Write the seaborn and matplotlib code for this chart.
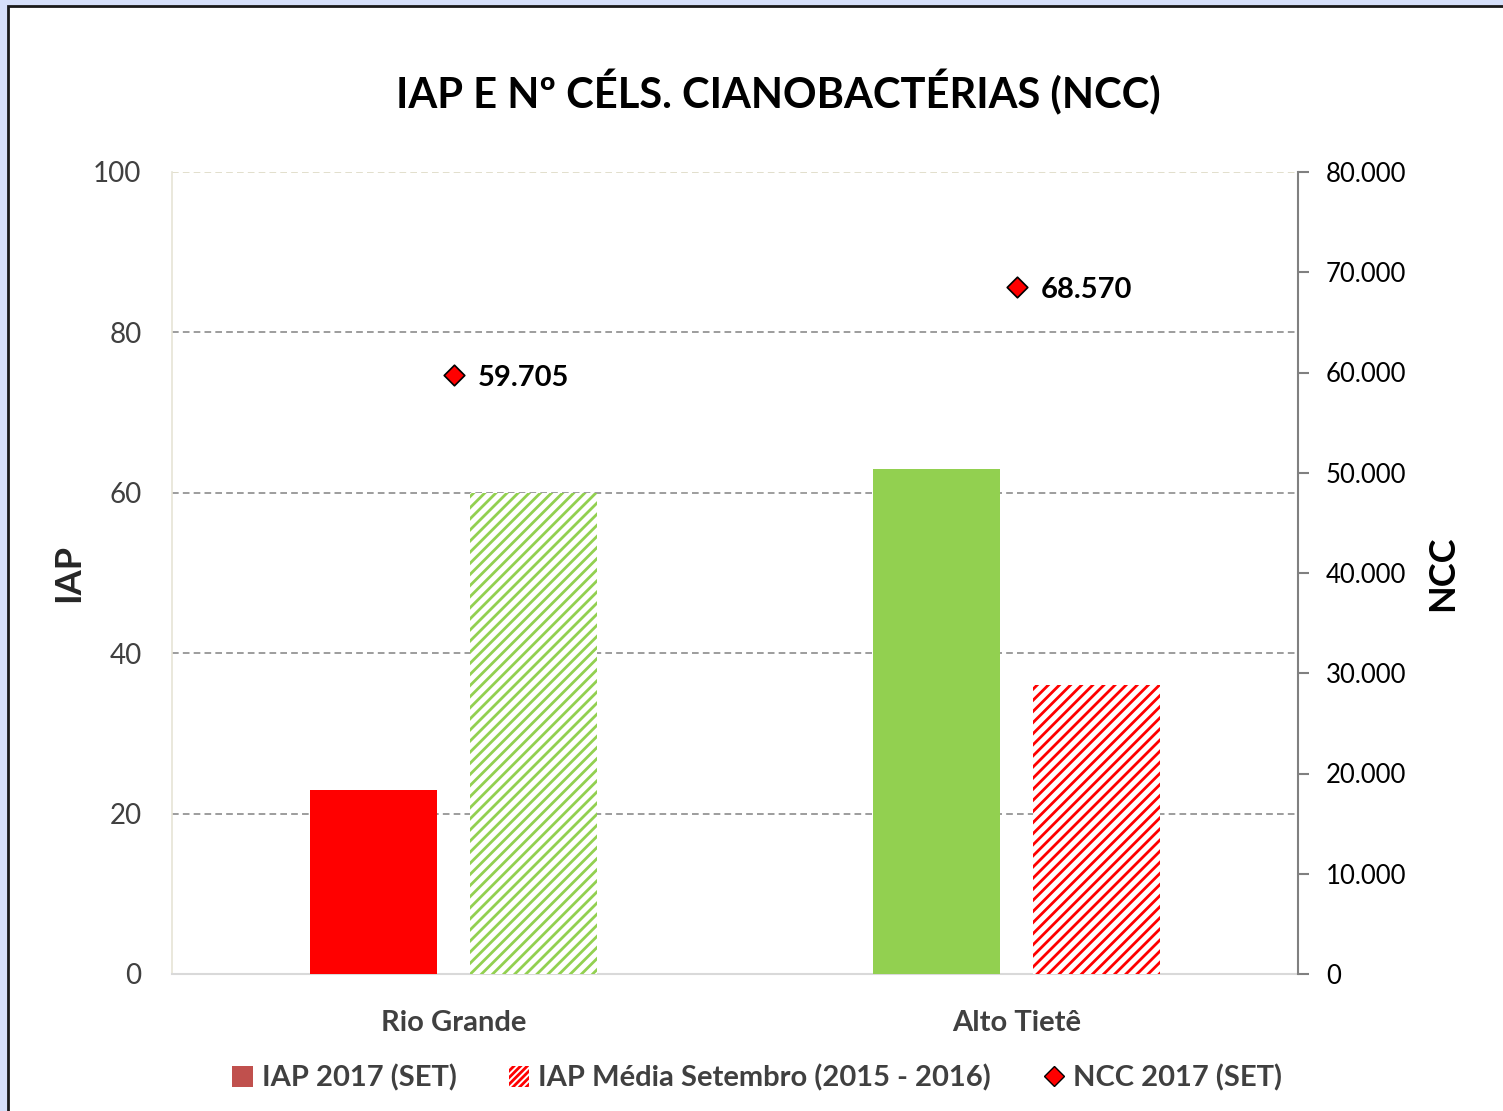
import matplotlib
matplotlib.use("Agg")
import matplotlib.pyplot as plt
from matplotlib.patches import Patch, Rectangle
from matplotlib.lines import Line2D
from matplotlib.ticker import FuncFormatter
import pandas as pd
import seaborn as sns

# data
regions = ["Rio Grande", "Alto Tietê"]
series = ["IAP 2017 (SET)", "IAP Média Setembro (2015 - 2016)"]
iap_2017 = [23, 63]
iap_media = [60, 36]
ncc_2017 = [59705, 68570]
ncc_label = "NCC 2017 (SET)"

RED = "#FF0000"
GREEN = "#92D050"
solid_colors = [RED, GREEN]
hatch_colors = [GREEN, RED]

df = pd.DataFrame({
    "regiao": regions * 2,
    "serie": [series[0]] * 2 + [series[1]] * 2,
    "iap": iap_2017 + iap_media,
})

sns.set_theme(style="white")
plt.rcParams["font.family"] = ["Lato", "DejaVu Sans"]
plt.rcParams["hatch.linewidth"] = 2.0

W, H = 1503, 1111
fig = plt.figure(figsize=(W / 100, H / 100), dpi=100, facecolor="#D6E0FA")
fig.patches.append(Rectangle((8 / W, -0.05), 1.1, 1.05 - 6 / H, transform=fig.transFigure,
                             facecolor="white", edgecolor="#1A1A1A", lw=2, zorder=-10))

ax = fig.add_axes([172 / W, 1 - 974 / H, (1298 - 172) / W, (974 - 172) / H])
ax.set_facecolor("none")

sns.barplot(data=df, x="regiao", y="iap", hue="serie", order=regions, hue_order=series,
            palette=[RED, GREEN], saturation=1, width=0.568, gap=0.206, errorbar=None,
            legend=False, ax=ax, zorder=3)

for i in range(len(regions)):
    b0 = ax.containers[0][i]
    b0.set_facecolor(solid_colors[i])
    b0.set_linewidth(0)
    b1 = ax.containers[1][i]
    b1.set_facecolor("white")
    b1.set_edgecolor(hatch_colors[i])
    b1.set_hatch("///")
    b1.set_linewidth(0)

ax2 = ax.twinx()
sns.scatterplot(x=regions, y=ncc_2017, marker="D", color=RED, edgecolor="black",
                linewidth=1.2, s=110, ax=ax2, zorder=5)

ax.set_xlim(-0.5, 1.5)
ax.set_ylim(0, 100)
ax.set_yticks([0, 20, 40, 60, 80, 100])
ax.yaxis.grid(True, linestyle=(0, (4, 2.5)), color="#8C8C8C", lw=1.2, zorder=0)
ax.yaxis.get_gridlines()[-1].set_color("#DDD9C3")
ax.set_axisbelow(True)
ax.set_xlabel("")
ax.set_ylabel("IAP", fontsize=26, fontweight="bold", color="#262626", labelpad=6)
ax.tick_params(axis="y", length=0, pad=22, labelsize=20, labelcolor="#404040")
ax.set_xticks([0, 1])
ax.set_xticklabels(regions, fontsize=21, fontweight="bold", color="#404040")
ax.tick_params(axis="x", which="major", length=0, pad=26)
ax.set_xticks([0.5], minor=True)
ax.tick_params(axis="x", which="minor", direction="in", length=10, width=1.5, color="#D9D9D9")
for s in ["top", "right"]:
    ax.spines[s].set_visible(False)
ax.spines["left"].set_color("#E6E4D6")
ax.spines["left"].set_linewidth(1.2)
ax.spines["bottom"].set_color("#D9D9D9")
ax.spines["bottom"].set_linewidth(1.5)

ax2.set_ylim(0, 80000)
ax2.set_yticks(range(0, 80001, 10000))
ax2.yaxis.set_major_formatter(FuncFormatter(lambda v, p: f"{v:,.0f}".replace(",", ".")))
ax2.tick_params(axis="y", direction="out", length=8, width=1.5, color="#808080",
                pad=12, labelsize=18.5, labelcolor="black")
ax2.set_ylabel("NCC", fontsize=26, fontweight="bold", color="black", labelpad=14)
ax2.grid(False)
for s in ["top", "left", "bottom"]:
    ax2.spines[s].set_visible(False)
ax2.spines["right"].set_color("#808080")
ax2.spines["right"].set_linewidth(1.5)

for i, v in enumerate(ncc_2017):
    ax2.annotate(f"{v:,.0f}".replace(",", "."), xy=(i, v), xytext=(24, -3),
                 textcoords="offset pixels", va="center", ha="left",
                 fontsize=21, fontweight="bold", color="black")

fig.text(778 / W, 1 - 92 / H, "IAP E Nº CÉLS. CIANOBACTÉRIAS (NCC)", ha="center", va="center",
         fontsize=30, fontweight="bold", color="black")

handles = [
    Patch(facecolor="#C0504D", lw=0),
    Patch(facecolor="white", edgecolor=RED, hatch="/////", lw=0),
    Line2D([], [], marker="D", color=RED, markeredgecolor="black", markersize=10, lw=0),
]
leg = fig.legend(handles, [series[0], series[1], ncc_label], loc="center",
                 bbox_to_anchor=(757 / W, 1 - 1078 / H), ncol=3, frameon=False,
                 prop={"size": 21, "weight": "bold"}, handlelength=0.7, handleheight=0.7,
                 handletextpad=0.3, columnspacing=1.8)
for t in leg.get_texts():
    t.set_color("#404040")

fig.savefig("out.png", dpi=100, facecolor=fig.get_facecolor())
